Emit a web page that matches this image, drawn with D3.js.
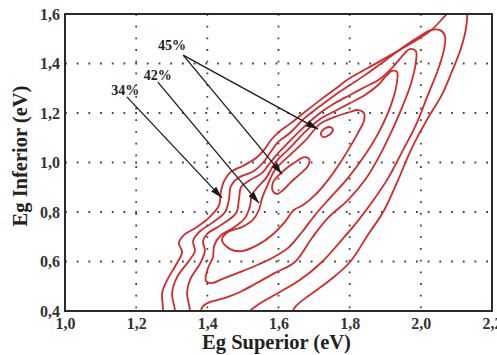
<!DOCTYPE html>
<html>
<head>
<meta charset="utf-8">
<script src="https://cdnjs.cloudflare.com/ajax/libs/d3/7.8.5/d3.min.js"></script>
<style>
  body { margin: 0; background: #fff; }
  svg { display: block; }
</style>
</head>
<body>
<svg id="chart" width="497" height="355"></svg>
<script>
// axis ticks
const xTicks = [1.0, 1.2, 1.4, 1.6, 1.8, 2.0, 2.2];
const yTicks = [0.4, 0.6, 0.8, 1.0, 1.2, 1.4, 1.6];

// contour lines, [Eg Superior, Eg Inferior]
const contour1 = [[1.267,0.372],[1.275,0.400],[1.273,0.473],[1.287,0.525],[1.315,0.594],[1.329,0.638],[1.320,0.675],[1.334,0.707],[1.371,0.739],[1.407,0.780],[1.433,0.828],[1.438,0.881],[1.447,0.925],[1.466,0.962],[1.500,0.986],[1.537,1.018],[1.559,1.050],[1.579,1.091],[1.604,1.127],[1.632,1.156],[1.674,1.204],[1.717,1.252],[1.759,1.297],[1.801,1.341],[1.851,1.382],[1.941,1.455],[2.026,1.531],[2.068,1.592],[2.096,1.632],[2.124,1.632],[2.130,1.600],[2.127,1.543],[2.113,1.463],[2.087,1.366],[2.059,1.273],[2.017,1.172],[1.975,1.059],[1.936,0.929],[1.894,0.800],[1.851,0.707],[1.801,0.598],[1.745,0.525],[1.688,0.465],[1.649,0.420],[1.629,0.372]];
const contour2 = [[1.306,0.372],[1.309,0.400],[1.301,0.473],[1.315,0.537],[1.348,0.602],[1.365,0.642],[1.360,0.683],[1.374,0.715],[1.413,0.756],[1.450,0.800],[1.461,0.853],[1.466,0.905],[1.486,0.937],[1.531,0.966],[1.556,0.998],[1.576,1.038],[1.599,1.083],[1.632,1.119],[1.674,1.180],[1.717,1.228],[1.759,1.273],[1.801,1.313],[1.843,1.353],[1.894,1.406],[1.955,1.471],[1.998,1.511],[2.028,1.535],[2.054,1.535],[2.068,1.511],[2.065,1.455],[2.048,1.374],[2.020,1.273],[1.986,1.151],[1.947,1.042],[1.908,0.937],[1.863,0.840],[1.821,0.760],[1.773,0.679],[1.722,0.598],[1.660,0.525],[1.604,0.477],[1.554,0.436],[1.520,0.400],[1.506,0.372]];
const contour3 = [[1.348,0.372],[1.351,0.400],[1.343,0.473],[1.351,0.525],[1.382,0.598],[1.393,0.642],[1.388,0.683],[1.399,0.711],[1.438,0.747],[1.481,0.796],[1.489,0.853],[1.495,0.901],[1.520,0.929],[1.554,0.958],[1.576,0.998],[1.599,1.038],[1.632,1.087],[1.674,1.147],[1.717,1.200],[1.759,1.240],[1.801,1.273],[1.843,1.305],[1.885,1.337],[1.922,1.386],[1.950,1.434],[1.969,1.458],[1.986,1.450],[1.986,1.406],[1.972,1.317],[1.950,1.232],[1.922,1.139],[1.885,1.030],[1.843,0.929],[1.795,0.848],[1.739,0.776],[1.694,0.695],[1.646,0.598],[1.590,0.554],[1.534,0.509],[1.492,0.477],[1.450,0.453],[1.407,0.436],[1.388,0.420],[1.382,0.400],[1.382,0.372]];
const contour4 = [[1.396,0.521],[1.402,0.574],[1.416,0.618],[1.419,0.663],[1.436,0.703],[1.472,0.735],[1.506,0.776],[1.520,0.824],[1.525,0.869],[1.542,0.901],[1.565,0.937],[1.590,0.998],[1.632,1.059],[1.674,1.123],[1.717,1.176],[1.759,1.208],[1.801,1.240],[1.843,1.273],[1.880,1.313],[1.902,1.349],[1.919,1.370],[1.933,1.366],[1.933,1.325],[1.916,1.232],[1.885,1.131],[1.843,1.030],[1.795,0.937],[1.745,0.857],[1.705,0.792],[1.666,0.719],[1.627,0.655],[1.582,0.614],[1.534,0.582],[1.486,0.554],[1.441,0.529],[1.413,0.513]];
const contour5 = [[1.441,0.687],[1.458,0.719],[1.497,0.739],[1.528,0.768],[1.545,0.808],[1.554,0.857],[1.568,0.905],[1.590,0.970],[1.632,1.030],[1.674,1.087],[1.717,1.156],[1.759,1.184],[1.801,1.204],[1.823,1.212],[1.840,1.200],[1.840,1.168],[1.823,1.119],[1.801,1.063],[1.773,0.998],[1.739,0.929],[1.703,0.869],[1.669,0.828],[1.643,0.808],[1.618,0.760],[1.582,0.707],[1.542,0.667],[1.497,0.642],[1.464,0.650]];
const loop45 = [[1.584,0.885],[1.584,0.917],[1.601,0.949],[1.627,0.982],[1.652,1.006],[1.672,1.022],[1.686,1.014],[1.683,0.986],[1.660,0.953],[1.635,0.921],[1.613,0.889],[1.596,0.873]];
const loop45small = [[1.719,1.115],[1.728,1.135],[1.745,1.143],[1.753,1.131],[1.742,1.111],[1.725,1.103]];

// annotations
const labelText = ["34%", "42%", "45%"];
const labelPos = [[1.169,1.293],[1.261,1.353],[1.301,1.475]];
const arrowFrom = [[1.174,1.265],[1.261,1.325],[1.332,1.434],[1.332,1.434]];
const arrowTo = [[1.441,0.857],[1.545,0.836],[1.610,0.953],[1.711,1.135]];

const margin = {top: 14, right: 5, bottom: 44, left: 65};
const width = 497 - margin.left - margin.right;
const height = 355 - margin.top - margin.bottom;

const svg = d3.select("#chart");
const g = svg.append("g").attr("transform", "translate(" + margin.left + "," + margin.top + ")");

const x = d3.scaleLinear().domain([1.0, 2.2]).range([0, width]);
const y = d3.scaleLinear().domain([0.4, 1.6]).range([height, 0]);
const fmt = v => d3.format(".1f")(v).replace(".", ",");

svg.append("defs").append("clipPath").attr("id", "plotclip")
  .append("rect").attr("width", width).attr("height", height);

const arrowDefs = svg.select("defs").append("marker")
  .attr("id", "head")
  .attr("viewBox", "0 0 12 7")
  .attr("refX", 12).attr("refY", 3.5)
  .attr("markerWidth", 12).attr("markerHeight", 7)
  .attr("markerUnits", "userSpaceOnUse")
  .attr("orient", "auto");
arrowDefs.append("path").attr("d", "M0,0 L12,3.5 L0,7 Z").attr("fill", "#1a1a1a");

// dotted grid
g.selectAll(".vgrid").data(xTicks.slice(1, -1)).enter().append("line")
  .attr("x1", d => x(d)).attr("x2", d => x(d))
  .attr("y1", 0).attr("y2", height)
  .attr("stroke", "#444").attr("stroke-width", 1.8)
  .attr("stroke-dasharray", "1.8,9.9");
g.selectAll(".hgrid").data(yTicks.slice(1, -1)).enter().append("line")
  .attr("y1", d => y(d)).attr("y2", d => y(d))
  .attr("x1", 0).attr("x2", width)
  .attr("stroke", "#444").attr("stroke-width", 1.8)
  .attr("stroke-dasharray", "1.8,9.9");

// contours
const openLine = d3.line().x(d => x(d[0])).y(d => y(d[1])).curve(d3.curveCatmullRom.alpha(0.5));
const closedLine = d3.line().x(d => x(d[0])).y(d => y(d[1])).curve(d3.curveCatmullRomClosed.alpha(0.5));

const cg = g.append("g").attr("clip-path", "url(#plotclip)");
[contour1, contour2, contour3].forEach(c => {
  cg.append("path").attr("d", openLine(c))
    .attr("fill", "none").attr("stroke", "#d6282b").attr("stroke-width", 1.8);
});
[contour4, contour5, loop45, loop45small].forEach(c => {
  cg.append("path").attr("d", closedLine(c))
    .attr("fill", "none").attr("stroke", "#d6282b").attr("stroke-width", 1.8);
});

// arrows
g.selectAll(".arrow").data(arrowFrom).enter().append("line")
  .attr("x1", d => x(d[0])).attr("y1", d => y(d[1]))
  .attr("x2", (d, i) => x(arrowTo[i][0])).attr("y2", (d, i) => y(arrowTo[i][1]))
  .attr("stroke", "#1a1a1a").attr("stroke-width", 1.3)
  .attr("marker-end", "url(#head)");

g.selectAll(".lbl").data(labelText).enter().append("text")
  .attr("x", (d, i) => x(labelPos[i][0]))
  .attr("y", (d, i) => y(labelPos[i][1]))
  .attr("dy", "0.35em")
  .attr("text-anchor", "middle")
  .style("font-family", "'Liberation Serif', 'Times New Roman', serif")
  .style("font-weight", "bold").style("font-size", "14px")
  .attr("fill", "#222")
  .text(d => d);

// axes
const xAxis = g.append("g").attr("transform", "translate(0," + height + ")")
  .call(d3.axisBottom(x).tickValues(xTicks).tickFormat(fmt).tickSize(0).tickPadding(7));
const yAxis = g.append("g")
  .call(d3.axisLeft(y).tickValues(yTicks).tickFormat(fmt).tickSize(0).tickPadding(5));
[xAxis, yAxis].forEach(a => {
  a.select(".domain").remove();
  a.selectAll("text")
    .style("font-family", "'Liberation Serif', 'Times New Roman', serif")
    .style("font-weight", "bold").style("font-size", "16px")
    .attr("fill", "#333");
});

// frame
g.append("rect").attr("width", width).attr("height", height)
  .attr("fill", "none").attr("stroke", "#2a2a2a").attr("stroke-width", 2);

// axis titles
svg.append("text")
  .attr("x", margin.left + width / 2 - 2).attr("y", 349)
  .attr("text-anchor", "middle")
  .style("font-family", "'Liberation Serif', 'Times New Roman', serif")
  .style("font-weight", "bold").style("font-size", "20.5px")
  .attr("fill", "#222")
  .text("Eg Superior (eV)");
svg.append("text")
  .attr("transform", "translate(27,156) rotate(-90)")
  .attr("text-anchor", "middle")
  .style("font-family", "'Liberation Serif', 'Times New Roman', serif")
  .style("font-weight", "bold").style("font-size", "20.5px")
  .attr("fill", "#222")
  .text("Eg Inferior (eV)");
</script>
</body>
</html>
